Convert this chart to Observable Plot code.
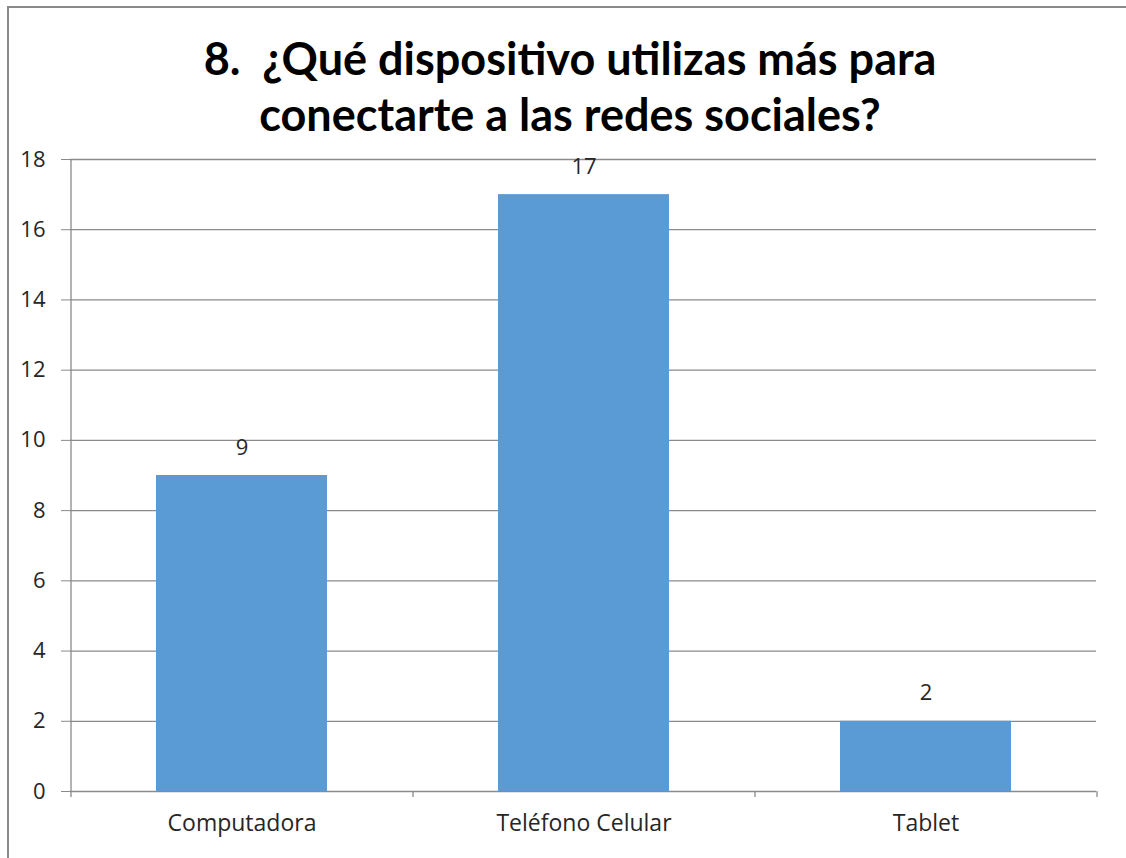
<!DOCTYPE html>
<html>
<head>
<meta charset="utf-8">
<script src="https://cdn.jsdelivr.net/npm/d3@7"></script>
<script src="https://cdn.jsdelivr.net/npm/@observablehq/plot@0.6"></script>
<style>
  html, body { margin: 0; padding: 0; background: #fff; }
  #wrap { position: relative; width: 1126px; height: 858px; overflow: hidden; background: #fff; }
  #border { position: absolute; left: 7px; top: 6px; width: 1130px; height: 900px; border-left: 2px solid #8a8a8a; border-top: 2px solid #8a8a8a; box-sizing: border-box; pointer-events: none; z-index: 2; }
  #title { position: relative; height: 150px; box-sizing: border-box; padding-top: 30px; text-align: center;
           font-family: Lato, "Open Sans", sans-serif; font-weight: bold; font-size: 45px; line-height: 56px; color: #000; padding-left: 14px; white-space: pre; }
  #chart { position: relative; }
</style>
</head>
<body>
<div id="wrap">
  <div id="title">8.  ¿Qué dispositivo utilizas más para
conectarte a las redes sociales?</div>
  <div id="chart"></div>
  <div id="border"></div>
</div>
<script>
const categories = ["Computadora", "Teléfono Celular", "Tablet"];
const values = [9, 17, 2];
const yTicks = [0, 2, 4, 6, 8, 10, 12, 14, 16, 18];

const data = categories.map((c, i) => ({category: c, value: values[i]}));

const W = 1126, H = 708;
const mL = 70, mR = 30, mT = 9, mB = 67;
const halfStep = (W - mL - mR) / categories.length / 2;
const gridColor = "#8a8a8a";
const font = "'Open Sans', Lato, sans-serif";
const textColor = "#262626";

const chart = Plot.plot({
  width: W,
  height: H,
  marginLeft: mL,
  marginRight: mR,
  marginTop: mT,
  marginBottom: mB,
  style: {fontFamily: font, fontSize: "22px", color: textColor, background: "transparent", overflow: "visible"},
  x: {domain: categories, paddingInner: 0.5, paddingOuter: 0.25, label: null},
  y: {domain: [0, 18], label: null},
  marks: [
    Plot.ruleY(yTicks, {stroke: gridColor, strokeWidth: 1.3}),
    Plot.ruleX(categories.slice(0, 1), {x: d => d, dx: -halfStep, y1: 0, y2: 18, stroke: gridColor, strokeWidth: 1.3}),
    Plot.barY(data, {x: "category", y: "value", fill: "#5b9bd5"}),
    Plot.ruleX(categories, {x: d => d, dx: -halfStep, y1: 0, y2: 0, insetBottom: -6, stroke: gridColor, strokeWidth: 1.3}),
    Plot.ruleX(categories.slice(-1), {x: d => d, dx: halfStep, y1: 0, y2: 0, insetBottom: -6, stroke: gridColor, strokeWidth: 1.3}),
    Plot.text(data, {x: "category", y: "value", text: d => String(d.value), dy: -28, fontSize: 22, fill: textColor}),
    Plot.axisY(yTicks, {tickSize: 9, tickPadding: 16, stroke: gridColor, fontSize: 22, fill: textColor, tickFormat: d => String(d)}),
    Plot.axisX({tickSize: 0, tickPadding: 23, fontSize: 23, fill: textColor})
  ]
});
document.getElementById("chart").appendChild(chart);
</script>
</body>
</html>
